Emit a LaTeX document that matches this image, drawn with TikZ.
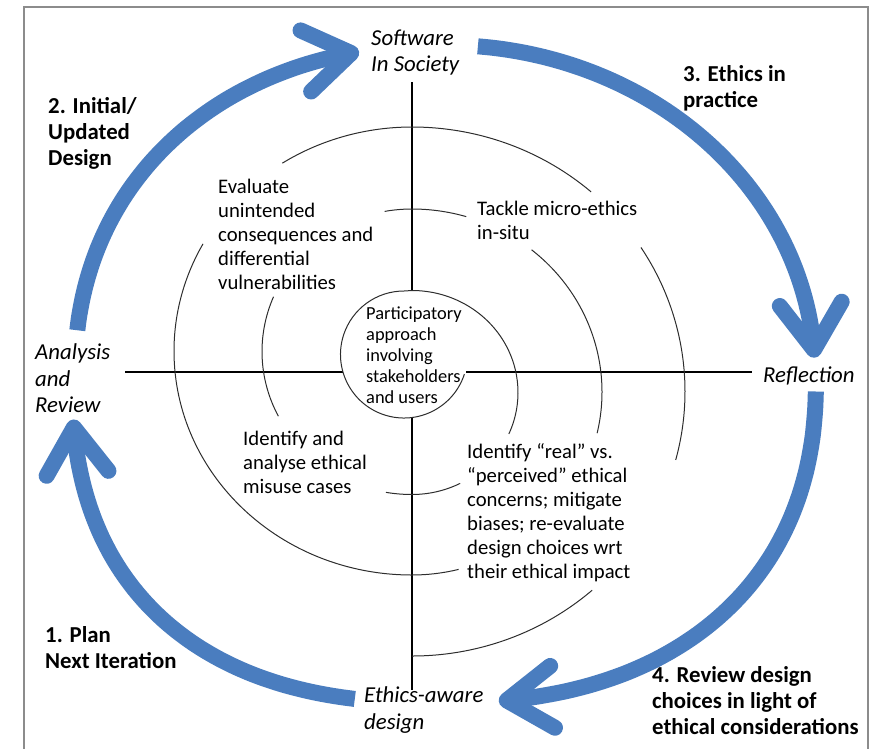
\documentclass[tikz,border=0pt]{standalone}
\usepackage{fontspec}
\setmainfont{Carlito}
\usetikzlibrary{arrows.meta,calc}
\definecolor{cycleblue}{RGB}{74,125,191}
\definecolor{framegray}{RGB}{140,140,140}
\definecolor{spiralgray}{RGB}{45,45,45}
\begin{document}
\begin{tikzpicture}[x=1pt,y=-1pt,
  bodytext/.style={font=\fontsize{20.7}{24}\selectfont, align=left, anchor=west, inner sep=0pt},
  centertext/.style={font=\fontsize{18.4}{21}\selectfont, align=left, anchor=west, inner sep=0pt},
  phase/.style={font=\fontsize{22.8}{26.5}\selectfont\itshape, align=left, anchor=west, inner sep=0pt},
  steplabel/.style={font=\fontsize{22.8}{26}\selectfont\bfseries, align=left, anchor=west, inner sep=0pt},
  axisline/.style={line width=2.8pt, black},
  spiralline/.style={line width=1pt, spiralgray},
  cyclearrow/.style={line width=16pt, cycleblue, line cap=butt,
    -{Straight Barb[length=46pt, width=62pt, round]}},
]
\useasboundingbox (0,0) rectangle (879,748);
% frame
\draw[framegray, line width=1.5pt] (24,760) -- (24,7) -- (868,7) -- (868,760);

% phase labels
\node[phase] (sis) at (371,52.5) {Software\\In Society};
\node[phase] (anr) at (35,378.5) {Analysis\\and\\Review};
\node[phase] (refl) at (763,376) {Reflection};
\node[phase] (ead) at (364,710) {Ethics-aware\\design};

% step labels
\node[steplabel] (s2) at (48,133.5) {2. Initial/\\Updated\\Design};
\node[steplabel] (s3) at (683,88) {3. Ethics in\\practice};
\node[steplabel] (s1) at (45,647.5) {1. Plan\\Next Iteration};
\node[steplabel] (s4) at (652,701) {4. Review design\\choices in light of\\ethical considerations};

% inner texts
\node[bodytext] (evalt) at (218,234.5) {Evaluate\\unintended\\consequences and\\differential\\vulnerabilities};
\node[bodytext] (tack) at (477,220) {Tackle micro-ethics\\in-situ};
\node[bodytext] (misu) at (243,462) {Identify and\\analyse ethical\\misuse cases};
\node[bodytext] (real) at (467,512.5) {Identify “real” vs.\\“perceived” ethical\\concerns; mitigate\\biases; re-evaluate\\design choices wrt\\their ethical impact};
\node[centertext] (part) at (366,355) {Participatory\\approach\\involving\\stakeholders\\and users};

% axes
\coordinate (axT) at (412,82);
\coordinate (axB) at (412,690);
\coordinate (axL) at (125,372);
\coordinate (axR) at (752,372);
\coordinate (cT) at (412,291);
\coordinate (cB) at (412,418);
\coordinate (cL) at (343,372);
\coordinate (cR) at (466,372);
\draw[axisline] (axT) -- (cT);
\draw[axisline] (cB) -- (axB);
\draw[axisline] (axL) -- (cL);
\draw[axisline] (cR) -- (axR);

% spiral
\draw[spiralline] ({404+63.5*cos(18)},{354.5+63.5*sin(18)})
  arc[start angle=18,end angle=270,radius=63.5] -- (412,290.5)
  arc[start angle=270,end angle=384,x radius=106,y radius=102];
\draw[spiralline] ({412+106*cos(423)},{392.5+102*sin(423)})
  arc[start angle=423,end angle=450,x radius=106,y radius=102]
  arc[start angle=90,end angle=100,x radius=150,y radius=142.5];
\draw[spiralline] ({412+150*cos(153)},{351.5+142.5*sin(153)})
  arc[start angle=153,end angle=202.6,x radius=150,y radius=142.5];
\draw[spiralline] ({412+150*cos(259.5)},{351.5+142.5*sin(259.5)})
  arc[start angle=259.5,end angle=270,x radius=150,y radius=142.5]
  arc[start angle=270,end angle=286.6,x radius=190,y radius=183];
\draw[spiralline] ({412+190*cos(309)},{392+183*sin(309)})
  arc[start angle=309,end angle=373,x radius=190,y radius=183];
\draw[spiralline] ({412+190*cos(435.8)},{392+183*sin(435.8)})
  arc[start angle=435.8,end angle=450,x radius=190,y radius=183]
  arc[start angle=90,end angle=208.6,x radius=238,y radius=224];
\draw[spiralline] ({412+238*cos(237)},{351+224*sin(237)})
  arc[start angle=237,end angle=270,x radius=238,y radius=224]
  arc[start angle=270,end angle=311,x radius=273,y radius=264.5];
\draw[spiralline] ({412+273*cos(327)},{391.5+264.5*sin(327)})
  arc[start angle=327,end angle=375,x radius=273,y radius=264.5];
\draw[spiralline] ({412+273*cos(408.7)},{391.5+264.5*sin(408.7)})
  arc[start angle=408.7,end angle=450,x radius=273,y radius=264.5];

% cycle arrows
\coordinate (tlS) at ({445-370*cos(6.7)^0.93},{375-330*sin(6.7)^0.93});
\coordinate (tlE) at ({445-370*cos(78)^0.93},{375-330*sin(78)^0.93});
\draw[cyclearrow] (tlS) -- plot[domain=6.7:77, samples=40, smooth]
  ({445-370*cos(\x)^0.93},{375-330*sin(\x)^0.93}) -- (tlE);

\coordinate (trS) at ({445+370*cos(84.9)},{375-330*sin(84.9)});
\coordinate (trE) at ({445+370*cos(3)},{375-330*sin(3)});
\draw[cyclearrow] (trS) -- plot[domain=84.9:4, samples=40, smooth]
  ({445+370*cos(\x)},{375-330*sin(\x)}) -- (trE);

\coordinate (brS) at ({440+376*cos(1.8)^0.87},{375+328*sin(1.8)^0.87});
\coordinate (brE) at ({440+376*cos(83.2)^0.87},{375+328*sin(83.2)^0.87});
\draw[cyclearrow] (brS) -- plot[domain=1.8:82.2, samples=40, smooth]
  ({440+376*cos(\x)^0.87},{375+328*sin(\x)^0.87}) -- (brE);

\coordinate (blS) at ({440-368*cos(80.1)^0.833},{375+328*sin(80.1)^0.833});
\coordinate (blE) at ({440-368*cos(5.2)^0.833},{375+328*sin(5.2)^0.833});
\draw[cyclearrow] (blS) -- plot[domain=80.1:6.2, samples=40, smooth]
  ({440-368*cos(\x)^0.833},{375+328*sin(\x)^0.833}) -- (blE);
\end{tikzpicture}
\end{document}
